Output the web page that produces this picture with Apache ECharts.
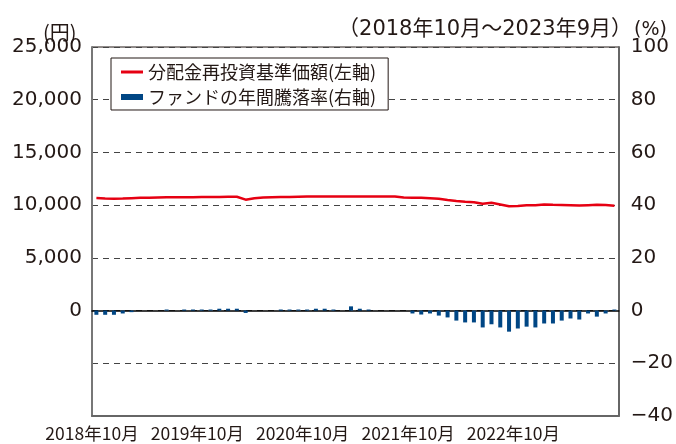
<!DOCTYPE html>
<html>
<head>
<meta charset="utf-8">
<script src="https://cdn.jsdelivr.net/npm/echarts@6/dist/echarts.min.js"></script>
<style>html,body{margin:0;padding:0;background:#fff}#c{width:676px;height:444px}</style>
</head>
<body>
<div id="c"></div>
<script>
const months = [
 '2018/10','2018/11','2018/12','2019/01','2019/02','2019/03','2019/04','2019/05','2019/06','2019/07','2019/08','2019/09',
 '2019/10','2019/11','2019/12','2020/01','2020/02','2020/03','2020/04','2020/05','2020/06','2020/07','2020/08','2020/09',
 '2020/10','2020/11','2020/12','2021/01','2021/02','2021/03','2021/04','2021/05','2021/06','2021/07','2021/08','2021/09',
 '2021/10','2021/11','2021/12','2022/01','2022/02','2022/03','2022/04','2022/05','2022/06','2022/07','2022/08','2022/09',
 '2022/10','2022/11','2022/12','2023/01','2023/02','2023/03','2023/04','2023/05','2023/06','2023/07','2023/08','2023/09'
];
const navValues = [
 10670,10630,10610,10630,10660,10690,10710,10730,10740,10740,10750,10760,
 10770,10770,10780,10790,10800,10520,10660,10720,10750,10770,10780,10800,
 10810,10820,10820,10810,10820,10830,10830,10820,10820,10830,10830,10720,
 10700,10690,10660,10600,10480,10400,10330,10280,10140,10220,10060,9900,
 9930,9980,9990,10070,10030,10020,10000,9960,10000,10030,10020,9950
];
const returnValues = [
 -1.6,-1.6,-1.6,-1.1,-0.6,0,0,0,0.4,0,0.4,0.4,
 0.4,0.4,0.7,0.7,0.7,-0.9,0,0,0,0.4,0.4,0.4,
 0.4,0.7,0.7,0.4,0,1.6,0.7,0.4,0,0,0,0,
 -1.1,-1.5,-1.1,-1.9,-2.6,-3.8,-4.5,-4.5,-6.4,-5.2,-6.4,-8.0,
 -6.8,-6.1,-6.4,-4.9,-4.9,-3.8,-3.0,-3.4,-1.1,-2.3,-1.1,0.4
];
const tickLabels = ['2018年10月','2019年10月','2020年10月','2021年10月','2022年10月'];
const seriesNames = ['分配金再投資基準価額(左軸)','ファンドの年間騰落率(右軸)'];
const periodText = '（2018年10月～2023年9月）';

const numFont = '"DejaVu Sans","Noto Sans CJK JP",sans-serif';
const cjkFont = '"Noto Sans CJK JP",sans-serif';
const txt = '#231815';

const chart = echarts.init(document.getElementById('c'), null, {renderer:'canvas'});
chart.setOption({
  animation: false,
  backgroundColor: '#fff',
  title: [
    {text: periodText, right: 44, top: 19, padding: 0,
     textStyle: {fontFamily: numFont, fontSize: 21, fontWeight: 'normal', color: txt}},
    {text: '(円)', left: 43, top: 22, padding: 0,
     textStyle: {fontFamily: cjkFont, fontSize: 20, fontWeight: 'normal', color: txt}},
    {text: '(%)', left: 634, top: 21, padding: 0,
     textStyle: {fontFamily: numFont, fontSize: 19, fontWeight: 'normal', color: txt}}
  ],
  legend: {
    orient: 'vertical', left: 111, top: 58,
    backgroundColor: '#fff', borderColor: '#231815', borderWidth: 1,
    padding: [5, 12, 4, 10], itemGap: 7,
    itemWidth: 22, itemHeight: 6,
    textStyle: {fontFamily: cjkFont, fontSize: 18, color: txt},
    data: [{name: seriesNames[0], icon: 'path://M0,0H22V3H0Z'}, {name: seriesNames[1], icon: 'rect'}]
  },
  grid: {left: 92, right: 55, top: 47, bottom: 28, show: true, borderColor: '#231815', borderWidth: 1, backgroundColor: 'transparent'},
  xAxis: [
    {type: 'category', data: months, boundaryGap: true, position: 'top',
     axisLine: {show: true, onZero: true, lineStyle: {color: '#000', width: 1.5}},
     axisTick: {show: false}, axisLabel: {show: false}, splitLine: {show: false}},
    {type: 'value', min: 0, max: 60, interval: 12, position: 'bottom',
     axisLine: {show: true, onZero: false, lineStyle: {color: '#666', width: 2}},
     axisTick: {show: false}, splitLine: {show: false},
     axisLabel: {margin: 9, showMinLabel: true, hideOverlap: false, fontFamily: cjkFont, fontSize: 17.5, color: txt,
       formatter: v => tickLabels[v / 12] || ''}}
  ],
  yAxis: [
    {type: 'value', min: -10000, max: 25000, interval: 5000, position: 'left',
     axisLine: {show: true, lineStyle: {color: '#777', width: 2}},
     axisTick: {show: false}, splitLine: {show: false},
     axisLabel: {margin: 10, fontFamily: numFont, fontSize: 20, color: txt,
       formatter: v => v < 0 ? '' : v.toLocaleString('en-US')}},
    {type: 'value', min: -40, max: 100, interval: 20, position: 'right',
     axisLine: {show: true, lineStyle: {color: '#666', width: 2}},
     axisTick: {show: false},
     splitLine: {show: true, lineStyle: {color: '#444', width: 1, type: [6, 5]}},
     axisLabel: {margin: 12, fontFamily: numFont, fontSize: 20, color: txt,
       formatter: v => v < 0 ? '−' + Math.abs(v) : String(v)}}
  ],
  series: [
    {name: seriesNames[1], type: 'bar', xAxisIndex: 0, yAxisIndex: 1, data: returnValues,
     barWidth: 4, itemStyle: {color: '#004684'}, z: 2},
    {name: seriesNames[0], type: 'line', xAxisIndex: 0, yAxisIndex: 0, data: navValues,
     symbol: 'none', lineStyle: {color: '#e60012', width: 2.5}, itemStyle: {color: '#e60012'}, z: 3}
  ]
});
</script>
</body>
</html>
